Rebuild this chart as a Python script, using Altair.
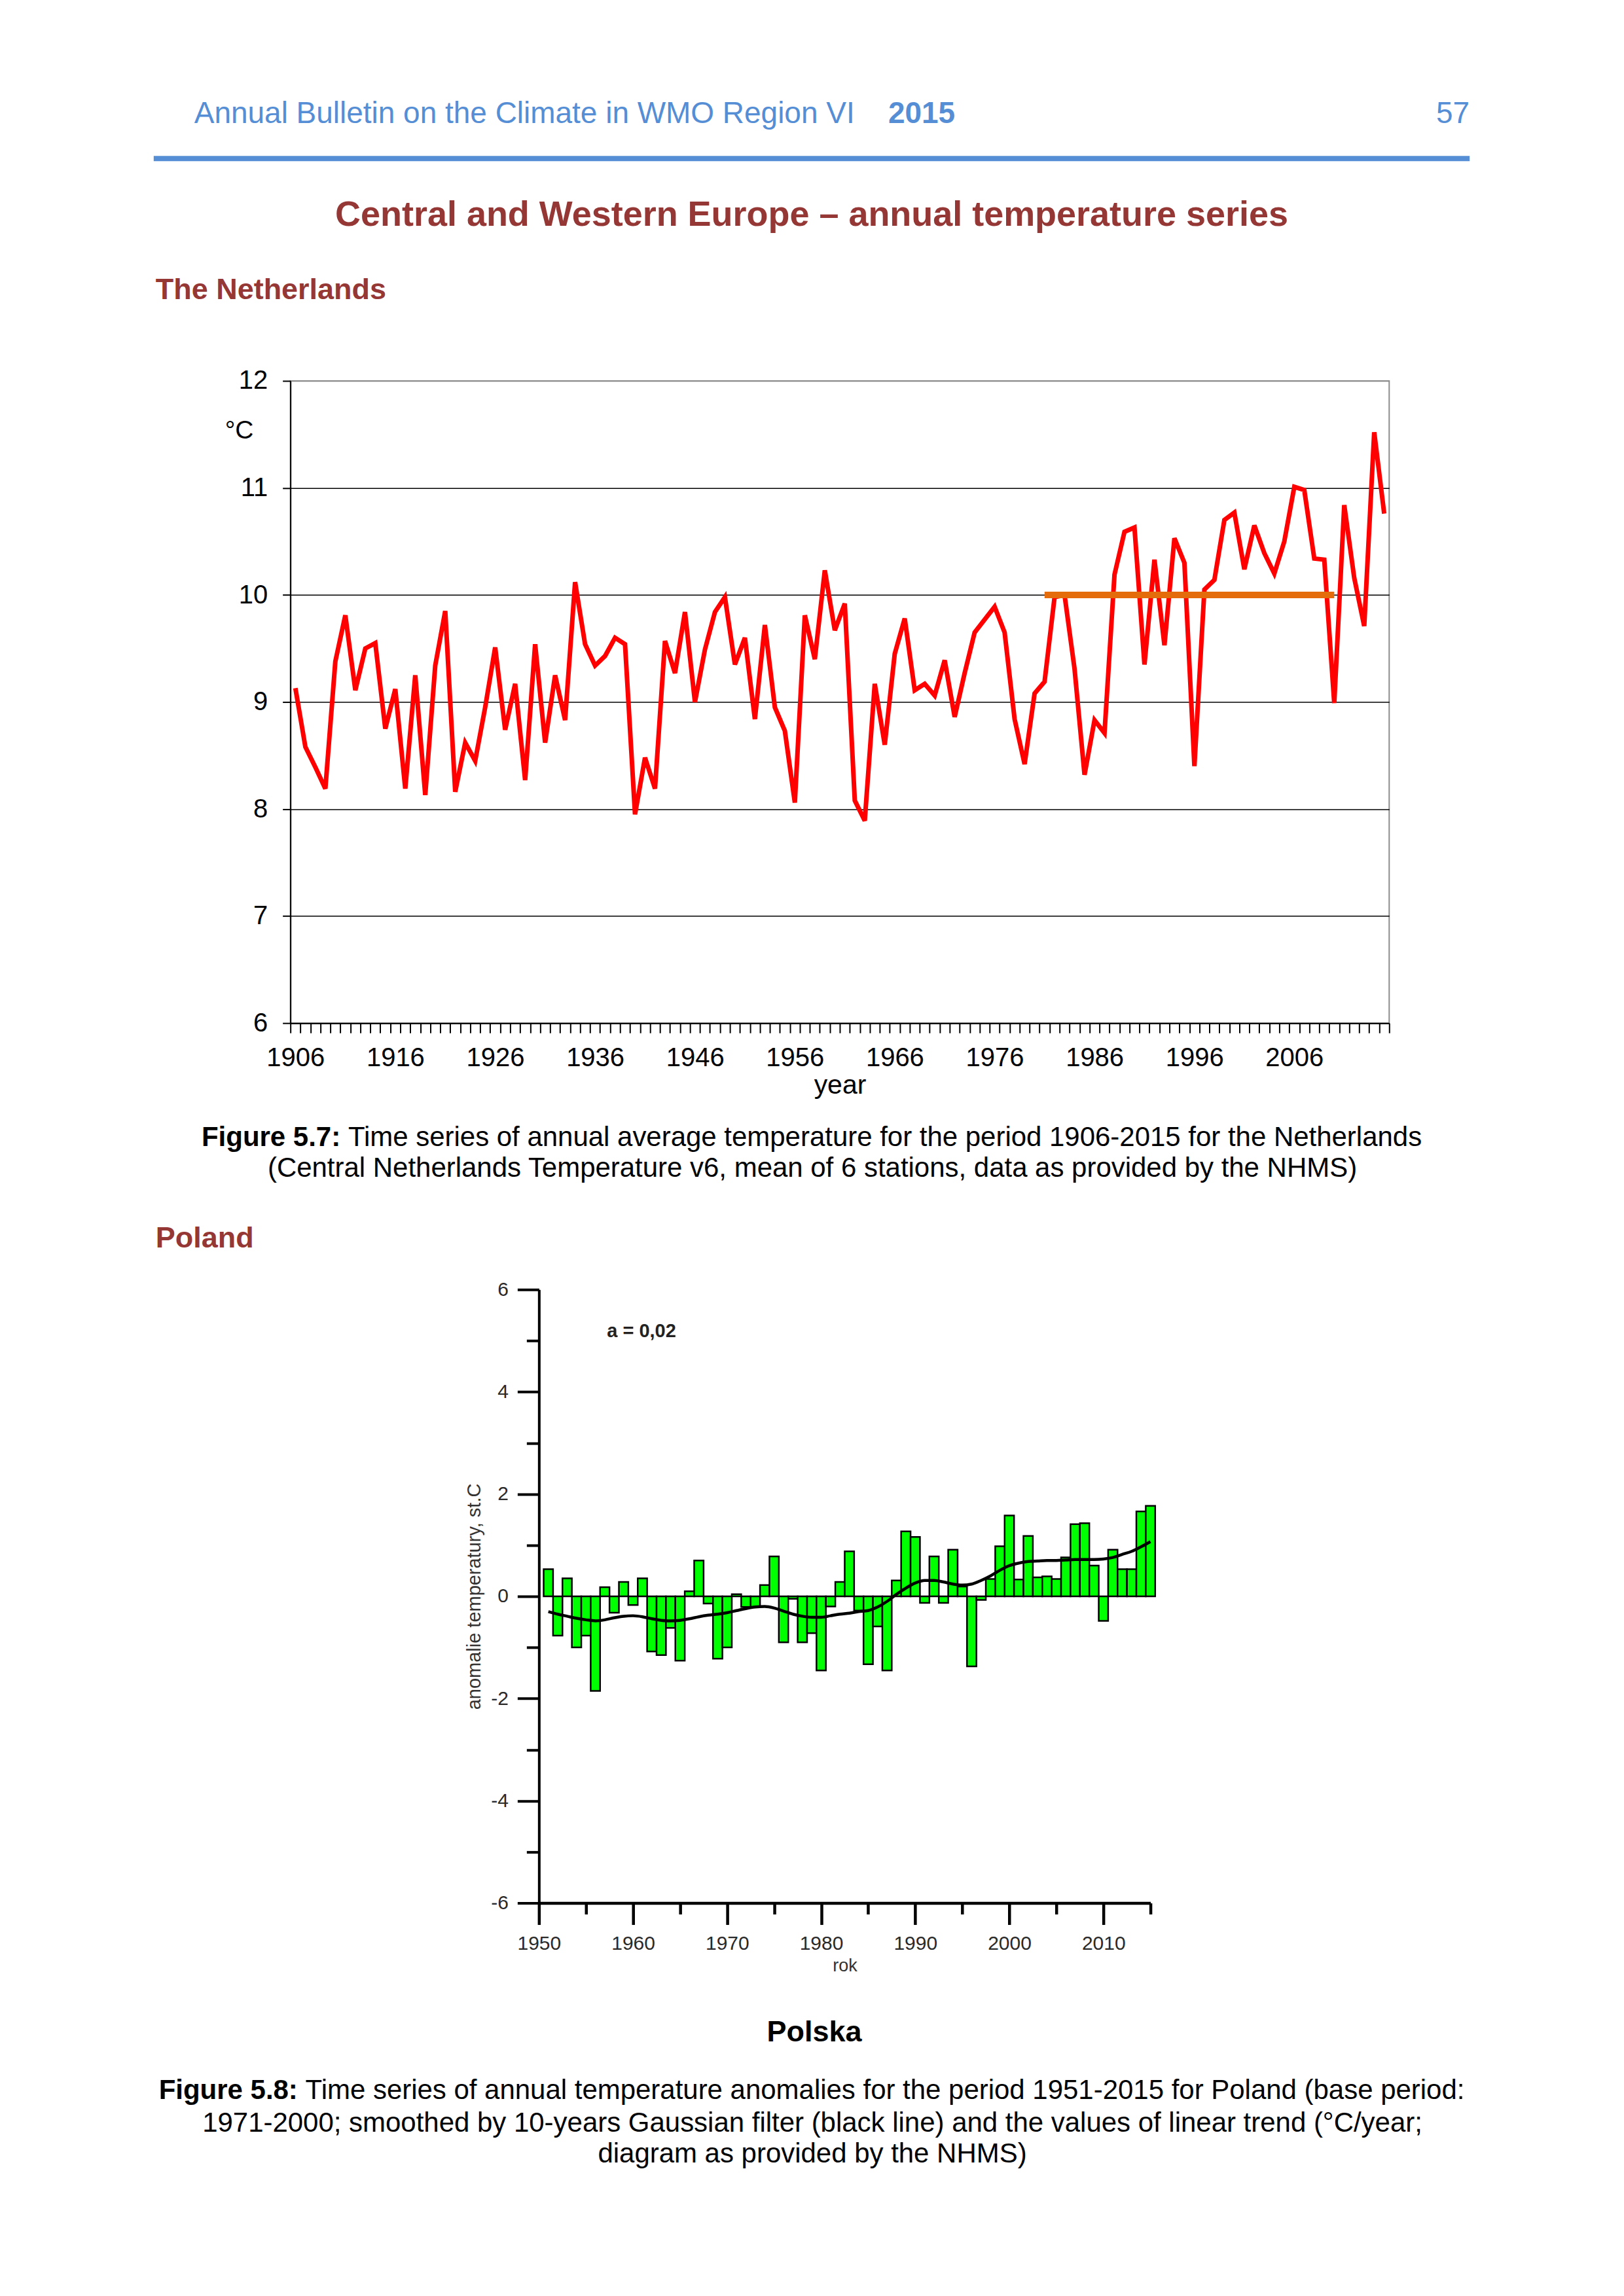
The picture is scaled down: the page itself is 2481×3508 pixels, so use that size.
import altair as alt
import pandas as pd

# ---------------- data ----------------
nl_years = list(range(1906, 2016))
nl_temp = [
    9.13, 8.58, 8.39, 8.19, 9.38, 9.81, 9.11, 9.50, 9.55, 8.75,
    9.12, 8.19, 9.25, 8.13, 9.34, 9.85, 8.16, 8.62, 8.45, 8.95,
    9.51, 8.74, 9.17, 8.27, 9.54, 8.62, 9.25, 8.83, 10.12, 9.54,
    9.34, 9.43, 9.60, 9.54, 7.95, 8.48, 8.19, 9.57, 9.27, 9.84,
    9.00, 9.49, 9.84, 9.98, 9.35, 9.60, 8.84, 9.72, 8.95, 8.73,
    8.06, 9.81, 9.40, 10.23, 9.67, 9.92, 8.08, 7.89, 9.17, 8.60,
    9.45, 9.78, 9.11, 9.17, 9.06, 9.39, 8.86, 9.27, 9.65, 9.77,
    9.89, 9.65, 8.84, 8.42, 9.08, 9.19, 9.98, 10.00, 9.31, 8.32,
    8.83, 8.71, 10.19, 10.59, 10.63, 9.35, 10.33, 9.53, 10.53, 10.30,
    8.40, 10.05, 10.14, 10.70, 10.77, 10.24, 10.65, 10.39, 10.20, 10.50,
    11.01, 10.98, 10.34, 10.33, 8.99, 10.84, 10.16, 9.71, 11.52, 10.76,
]
normal_years = [1981, 2010]
normal_temp = [10.0, 10.0]

pl_years = list(range(1951, 2016))
pl_anom = [
    0.53, -0.77, 0.35, -1.00, -0.77, -1.85, 0.18, -0.32, 0.28, -0.17,
    0.35, -1.08, -1.15, -0.62, -1.26, 0.10, 0.70, -0.14, -1.22, -1.00,
    0.04, -0.21, -0.21, 0.22, 0.78, -0.90, -0.05, -0.90, -0.72, -1.45,
    -0.20, 0.28, 0.88, -0.28, -1.33, -0.59, -1.45, 0.31, 1.27, 1.16,
    -0.13, 0.78, -0.13, 0.91, 0.19, -1.37, -0.07, 0.34, 0.98, 1.58,
    0.33, 1.18, 0.37, 0.39, 0.34, 0.76, 1.41, 1.43, 0.60, -0.48,
    0.91, 0.53, 0.53, 1.66, 1.77,
]
pl_smooth = [
    -0.30, -0.35, -0.39, -0.43, -0.46, -0.48, -0.46, -0.42, -0.39, -0.38,
    -0.40, -0.44, -0.47, -0.48, -0.47, -0.44, -0.40, -0.37, -0.35, -0.32,
    -0.28, -0.24, -0.21, -0.20, -0.23, -0.29, -0.35, -0.39, -0.41, -0.41,
    -0.38, -0.35, -0.33, -0.30, -0.28, -0.21, -0.10, 0.04, 0.16, 0.26,
    0.31, 0.31, 0.28, 0.24, 0.22, 0.24, 0.31, 0.40, 0.51, 0.60,
    0.65, 0.68, 0.69, 0.70, 0.70, 0.71, 0.72, 0.72, 0.72, 0.73,
    0.76, 0.82, 0.88, 0.97, 1.07,
]

# ---------------- styling / layout helpers ----------------
FONT = "Liberation Sans"
BLUE = "#558ED5"
DARKRED = "#953735"

NL_X0, NL_Y0 = 443, 580          # page position of the Netherlands plot area
NL_W, NL_H = 1680, 982
PL_X0, PL_Y0 = 823, 1969.5       # page position of the Poland plot area
PL_W, PL_H = 935, 938

REG = {c: 556 for c in "0123456789"}
REG.update({' ': 278, '(': 333, ')': 333, ',': 278, '-': 333, '.': 278, '/': 278,
            ':': 278, ';': 278, '°': 400})
REG.update(dict(zip("ABCDEFGHIJKLMNOPQRSTUVWXYZ",
                    [667, 667, 722, 722, 667, 611, 778, 722, 278, 500, 667, 556, 833,
                     722, 778, 667, 778, 722, 667, 611, 722, 667, 944, 667, 667, 611])))
REG.update(dict(zip("abcdefghijklmnopqrstuvwxyz",
                    [556, 556, 500, 556, 556, 278, 556, 556, 222, 222, 500, 222, 833,
                     556, 556, 556, 556, 333, 500, 278, 556, 500, 722, 500, 500, 500])))
BOLD = {c: 556 for c in "0123456789"}
BOLD.update({' ': 278, ':': 333, '.': 278, 'F': 611, 'i': 278, 'g': 611, 'u': 611,
             'r': 389, 'e': 556})


def tw(s, size, bold=False):
    table = BOLD if bold else REG
    return sum(table.get(c, 556) for c in s) * size / 1000.0


def txt(s, px, py, size, ox, oy, color="black", bold=False, align="left", font=FONT):
    return alt.Chart(pd.DataFrame({"t": [s]})).mark_text(
        align=align, baseline="alphabetic", font=font, fontSize=size,
        fontWeight="bold" if bold else "normal", color=color,
    ).encode(x=alt.value(px - ox), y=alt.value(py - oy), text="t:N")


def caption(bold_part, rest, cx, py, size, ox, oy):
    wb = tw(bold_part, size, True)
    ws = tw(" ", size)
    wr = tw(rest, size)
    x0 = cx - (wb + ws + wr) / 2.0
    return [txt(bold_part, x0, py, size, ox, oy, bold=True),
            txt(rest, x0 + wb + ws, py, size, ox, oy)]


# ---------------- Netherlands chart ----------------
nl_df = pd.DataFrame({"year": nl_years, "temp": nl_temp})
norm_df = pd.DataFrame({"year": normal_years, "temp": normal_temp})

x_axis_nl = alt.Axis(
    values=[1905.5 + i for i in range(111)], tickCount=500,
    labelExpr="((datum.value + 0.5 - 1906) % 10 == 0 && datum.value < 2015) ? '' + (datum.value + 0.5) : ''",
    labelOffset=NL_W / 110 / 2, labelOverlap=False, labelFlush=False, labelBound=False,
    tickSize=15, tickWidth=2, tickColor="black", domainColor="black", domainWidth=2,
    labelFont=FONT, labelFontSize=40, labelColor="black", labelPadding=50,
    labelBaseline="alphabetic", grid=False,
    title="year", titleFont=FONT, titleFontSize=41, titleFontWeight="normal",
    titleColor="black", titleX=840, titleY=107, titleBaseline="alphabetic",
    titleAlign="center",
)
y_axis_nl = alt.Axis(
    values=[6, 7, 8, 9, 10, 11, 12], tickCount=50, format="d",
    tickSize=12, tickWidth=2, tickColor="black",
    domainColor="black", domainWidth=2, labelFont=FONT, labelFontSize=40,
    labelColor="black", labelPadding=23, labelBaseline="middle", labelFlush=False,
    grid=True, gridWidth=1.5,
    gridColor={"condition": {"test": "datum.value === 12", "value": "#8c8c8c"}, "value": "black"},
    title=None,
)

nl_line = alt.Chart(nl_df).mark_line(
    color="#FF0000", strokeWidth=7, strokeJoin="miter", strokeMiterLimit=3
).encode(
    x=alt.X("year:Q", scale=alt.Scale(domain=[1905.5, 2015.5], nice=False, zero=False), axis=x_axis_nl),
    y=alt.Y("temp:Q", scale=alt.Scale(domain=[6, 12], nice=False, zero=False), axis=y_axis_nl),
)
nl_norm = alt.Chart(norm_df).mark_line(color="#E46C0A", strokeWidth=10, strokeCap="butt").encode(
    x="year:Q", y="temp:Q"
)

bounds_rect = alt.Chart(pd.DataFrame({"a": [0]})).mark_rect(fill="white", fillOpacity=0).encode(
    x=alt.value(8 - NL_X0), x2=alt.value(2473 - NL_X0),
    y=alt.value(8 - NL_Y0), y2=alt.value(3500 - NL_Y0),
)
header_rule = alt.Chart(pd.DataFrame({"a": [0]})).mark_rule(color=BLUE, strokeWidth=8).encode(
    x=alt.value(234 - NL_X0), x2=alt.value(2246 - NL_X0), y=alt.value(240 - NL_Y0)
)

nl_texts = [
    txt("Annual Bulletin on the Climate in WMO Region VI", 296, 186, 46, NL_X0, NL_Y0, color=BLUE),
    txt("2015", 1357, 186, 46, NL_X0, NL_Y0, color=BLUE, bold=True),
    txt("57", 2246, 186, 46, NL_X0, NL_Y0, color=BLUE, align="right"),
    txt("Central and Western Europe – annual temperature series", 1240, 343, 54, NL_X0, NL_Y0,
        color=DARKRED, bold=True, align="center"),
    txt("The Netherlands", 237, 455, 45, NL_X0, NL_Y0, color=DARKRED, bold=True),
    txt("°C", 343, 668, 39, NL_X0, NL_Y0),
]
nl_texts += caption("Figure 5.7:",
                    "Time series of annual average temperature for the period 1906-2015 for the Netherlands",
                    1241, 1750, 42, NL_X0, NL_Y0)
nl_texts.append(txt("(Central Netherlands Temperature v6, mean of 6 stations, data as provided by the NHMS)",
                    1241, 1797, 42, NL_X0, NL_Y0, align="center"))

nl_chart = alt.layer(bounds_rect, header_rule, nl_line, nl_norm, *nl_texts).properties(
    width=NL_W, height=NL_H, view=alt.ViewBackground(stroke="#8c8c8c", strokeWidth=2)
)

# ---------------- Poland chart ----------------
pl_df = pd.DataFrame({"year": pl_years, "anom": pl_anom, "smooth": pl_smooth})

x_axis_pl = alt.Axis(
    values=list(range(1950, 2016, 5)), tickCount=100,
    labelExpr="datum.value % 10 === 0 ? '' + datum.value : ''",
    tickSize={"condition": {"test": "datum.value % 10 === 0", "value": 33}, "value": 17},
    tickWidth=4.5, tickColor="black", domainColor="black", domainWidth=4.5,
    labelFont=FONT, labelFontSize=30, labelColor="#2a2a2a", labelPadding=38,
    labelBaseline="alphabetic", labelOverlap=False, labelFlush=False, grid=False,
    title="rok", titleFont=FONT, titleFontSize=27, titleFontWeight="normal",
    titleColor="#333", titleX=PL_W / 2, titleY=104, titleBaseline="alphabetic",
    titleAlign="center",
)
y_axis_pl = alt.Axis(
    values=list(range(-6, 7)), tickCount=100,
    labelExpr="datum.value % 2 === 0 ? '' + datum.value : ''",
    tickSize={"condition": {"test": "datum.value % 2 === 0", "value": 33}, "value": 19},
    tickWidth=4, tickColor="black", domainColor="black", domainWidth=4,
    labelFont=FONT, labelFontSize=30, labelColor="#2a2a2a", labelPadding=14,
    labelBaseline="middle", labelOverlap=False, labelFlush=False, grid=False,
    title="anomalie temperatury, st.C", titleFont=FONT, titleFontSize=29,
    titleFontWeight="normal", titleColor="#333", titleX=724 - PL_X0, titleY=PL_H / 2,
    titleAngle=270, titleBaseline="middle", titleAlign="center",
)

pl_bars = alt.Chart(pl_df).transform_calculate(
    x0="datum.year - 0.5", x1="datum.year + 0.5"
).mark_bar(color="#00FF00", stroke="black", strokeWidth=2.5).encode(
    x=alt.X("x0:Q", scale=alt.Scale(domain=[1950, 2015], nice=False, zero=False), axis=x_axis_pl),
    x2="x1:Q",
    y=alt.Y("anom:Q", scale=alt.Scale(domain=[-6, 6], nice=False), axis=y_axis_pl),
    y2=alt.datum(0),
)
pl_line = alt.Chart(pl_df).mark_line(color="black", strokeWidth=4.5, interpolate="monotone").encode(
    x="year:Q", y="smooth:Q"
)

pl_texts = [
    txt("a = 0,02", 927, 2042, 29, PL_X0, PL_Y0, color="#222", bold=True),
    txt("Poland", 237, 1905, 45, PL_X0, PL_Y0, color=DARKRED, bold=True),
    txt("Polska", 1244, 3119, 45, PL_X0, PL_Y0, bold=True, align="center"),
]
pl_texts += caption("Figure 5.8:",
                    "Time series of annual temperature anomalies for the period 1951-2015 for Poland (base period:",
                    1241, 3207, 42, PL_X0, PL_Y0)
pl_texts.append(txt("1971-2000; smoothed by 10-years Gaussian filter (black line) and the values of linear trend (°C/year;",
                    1241, 3257, 42, PL_X0, PL_Y0, align="center"))
pl_texts.append(txt("diagram as provided by the NHMS)", 1241, 3304, 42, PL_X0, PL_Y0, align="center"))

pl_chart = alt.layer(pl_bars, pl_line, *pl_texts).properties(width=PL_W, height=PL_H)

spacer = alt.Chart(pd.DataFrame({"a": [0]})).mark_point(opacity=0).encode(
    x=alt.value(0), y=alt.value(0)
).properties(width=PL_X0 - NL_X0, height=PL_H)

row2 = alt.hconcat(spacer, pl_chart, spacing=0, bounds="flush")

chart = alt.vconcat(
    nl_chart, row2, spacing=PL_Y0 - NL_Y0 - NL_H, bounds="flush"
).properties(padding=0, background="white").configure_view(stroke=None)

chart.save("out.html", embed_options={"renderer": "svg", "actions": False})
